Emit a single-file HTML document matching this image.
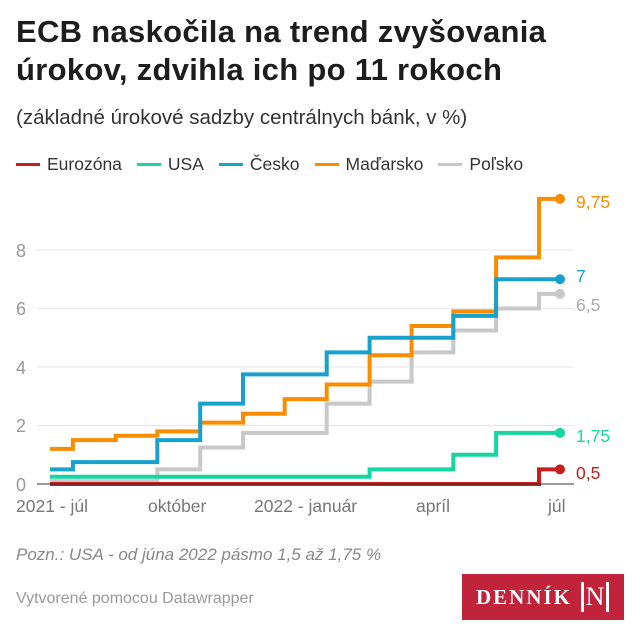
<!DOCTYPE html>
<html><head><meta charset="utf-8"><style>
body{margin:0;width:640px;height:640px;background:#fff;font-family:"Liberation Sans",sans-serif;overflow:hidden;position:relative}
.t{position:absolute;left:16px;top:13px;font-size:31px;font-weight:bold;line-height:38px;color:#1d1d1d;letter-spacing:0.3px}
.s{position:absolute;left:16px;top:106px;font-size:20.5px;color:#333}
.lg{position:absolute;top:154px;left:16px;font-size:17.5px;color:#333;display:flex;gap:0}
.lg span{display:inline-flex;align-items:center;margin-right:15px}
.lg i{display:inline-block;width:24px;height:3px;margin-right:7px}
.n{position:absolute;left:16px;top:545px;font-size:17px;font-style:italic;color:#888}
.f{position:absolute;left:16px;top:590px;font-size:16px;color:#999}
.logo{position:absolute;left:462px;top:574px;width:162px;height:46px;background:#c0233a;color:#fff;font-family:"Liberation Serif",serif;font-size:21px;font-weight:bold;letter-spacing:2px;display:flex;align-items:center;padding-left:14px;box-sizing:border-box}
.logo b{display:inline-block;border:3px solid #fff;border-top:none;border-bottom:none;width:22px;height:30px;margin-left:9px;font-size:26px;line-height:30px;text-align:center;letter-spacing:0;font-weight:normal}
</style></head><body>
<div class="t">ECB naskočila na trend zvyšovania<br>úrokov, zdvihla ich po 11 rokoch</div>
<div class="s">(základné úrokové sadzby centrálnych bánk, v %)</div>
<div class="lg"><span><i style="background:#c71e1d"></i>Eurozóna</span><span><i style="background:#15d6a3"></i>USA</span><span><i style="background:#18a1cd"></i>Česko</span><span><i style="background:#fa8c00"></i>Maďarsko</span><span><i style="background:#c8c8c8"></i>Poľsko</span></div>
<svg id="c" width="640" height="640" style="position:absolute;left:0;top:0" font-family="Liberation Sans,sans-serif">
<g stroke="#e6e6e6" stroke-width="1">
<line x1="37" x2="574" y1="250" y2="250"/><line x1="37" x2="574" y1="308.5" y2="308.5"/><line x1="37" x2="574" y1="367" y2="367"/><line x1="37" x2="574" y1="425.5" y2="425.5"/></g>
<g fill="#999" font-size="18"><text x="16" y="257">8</text><text x="16" y="315">6</text><text x="16" y="374">4</text><text x="16" y="432">2</text><text x="16" y="491">0</text></g>
<g fill="#777" font-size="17.5"><text x="16" y="512">2021 - júl</text><text x="148" y="512">október</text><text x="254" y="512">2022 - január</text><text x="416" y="512">apríl</text><text x="548" y="512">júl</text></g>
<g id="ser" fill="none" stroke-width="4"></g>
<line x1="37" x2="574" y1="484" y2="484" stroke="#333" stroke-width="1"/>
<g font-size="17.5"><text x="576" y="208" fill="#fa8c00">9,75</text><text x="576" y="282" fill="#18a1cd">7</text><text x="576" y="311" fill="#aaa">6,5</text><text x="576" y="442" fill="#15d6a3">1,75</text><text x="576" y="479" fill="#c71e1d">0,5</text></g>
</svg>
<div class="n">Pozn.: USA - od júna 2022 pásmo 1,5 až 1,75 %</div>
<div class="f">Vytvorené pomocou Datawrapper</div>
<div class="logo">DENNÍK<b>N</b></div>
<script>
var xs=[50,72.9,115.7,157.3,200.2,243,284.7,326.7,369.6,411.6,453.3,496.1,539,560];
function Y(v){return 484-v*29.25}
var S=[
["#c8c8c8",[0.1,0.1,0.1,0.5,1.25,1.75,1.75,2.75,3.5,4.5,5.25,6,6.5]],
["#15d6a3",[0.25,0.25,0.25,0.25,0.25,0.25,0.25,0.25,0.5,0.5,1,1.75,1.75]],
["#fa8c00",[1.2,1.5,1.65,1.8,2.1,2.4,2.9,3.4,4.4,5.4,5.9,7.75,9.75]],
["#18a1cd",[0.5,0.75,0.75,1.5,2.75,3.75,3.75,4.5,5,5,5.75,7,7]],
["#c71e1d",[0,0,0,0,0,0,0,0,0,0,0,0,0.5]]];
var g=document.getElementById('ser'),h='';
S.forEach(function(s){var d='M'+xs[0]+' '+Y(s[1][0]);
for(var i=0;i<13;i++){d+=' L'+xs[i]+' '+Y(s[1][i])+' L'+xs[i+1]+' '+Y(s[1][i]);}
h+='<path d="'+d+'" stroke="'+s[0]+'"/><circle cx="560" cy="'+Y(s[1][12])+'" r="5" fill="'+s[0]+'" stroke="none"/>';});
g.innerHTML=h;
</script>
</body></html>
